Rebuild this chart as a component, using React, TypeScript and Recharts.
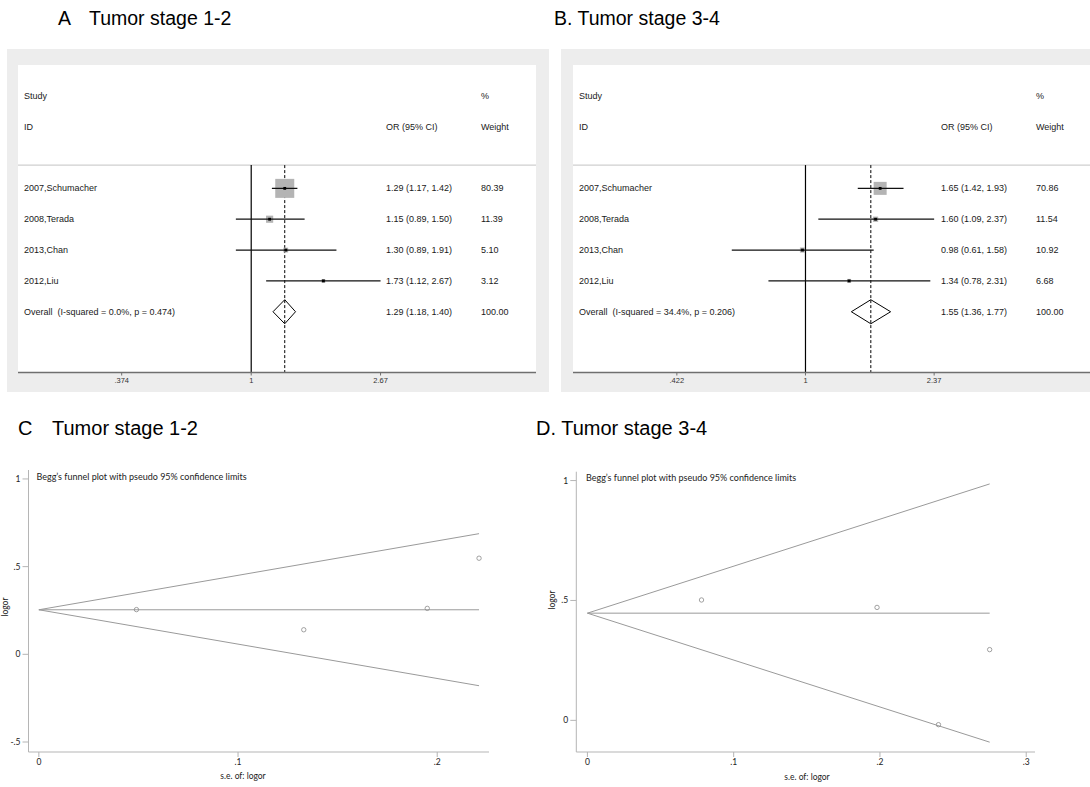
import React from "react";
import { ScatterChart, Scatter, XAxis, YAxis, ReferenceLine } from "recharts";

// studies, same order in both forest plots
const studies = ["2007,Schumacher", "2008,Terada", "2013,Chan", "2012,Liu"];

// A: tumor stage 1-2
const orA = [1.29, 1.15, 1.3, 1.73];
const loA = [1.17, 0.89, 0.89, 1.12];
const hiA = [1.42, 1.5, 1.91, 2.67];
const weightA = [80.39, 11.39, 5.1, 3.12];
const overallA = [1.29, 1.18, 1.4];
const overallTextA = "Overall  (I-squared = 0.0%, p = 0.474)";
const ticksA = [0.374, 1, 2.67];

// B: tumor stage 3-4
const orB = [1.65, 1.6, 0.98, 1.34];
const loB = [1.42, 1.09, 0.61, 0.78];
const hiB = [1.93, 2.37, 1.58, 2.31];
const weightB = [70.86, 11.54, 10.92, 6.68];
const overallB = [1.55, 1.36, 1.77];
const overallTextB = "Overall  (I-squared = 34.4%, p = 0.206)";
const ticksB = [0.422, 1, 2.37];

const seC = [0.049, 0.133, 0.195, 0.221];
const logorC = [0.255, 0.14, 0.262, 0.548];
const limitsC = [0.221, 0.254, 0.688, -0.179]; // se max, centre, upper, lower
const xTicksC = [0, 0.1, 0.2];
const yTicksC = [-0.5, 0, 0.5, 1];

// D: funnel, stage 3-4
const seD = [0.078, 0.198, 0.24, 0.275];
const logorD = [0.502, 0.471, -0.018, 0.295];
const limitsD = [0.275, 0.447, 0.986, -0.091];
const xTicksD = [0, 0.1, 0.2, 0.3];
const yTicksD = [0, 0.5, 1];

const SANS = "'Liberation Sans', Arial, sans-serif";
const FUNNEL_FONT = "Lato, 'Open Sans', sans-serif";
const COL = { label: 6, or: 368, weight: 463 };

const f2 = (v: number) => v.toFixed(2);
const stata = (v: number) => {
  const s = String(v);
  if (s.startsWith("0.")) return s.slice(1);
  if (s.startsWith("-0.")) return "-" + s.slice(2);
  return s;
};

const Empty = () => <g />;

const txt = (x: number, y: number, s: string, key?: string) => (
  <text key={key} x={x} y={y} fontSize={9} fontFamily={SANS} fill="#1a1a1a" dominantBaseline="central" style={{ whiteSpace: "pre" }}>
    {s}
  </text>
);

function Forest(props: any) {
  const { or, lo, hi, weight, overall, overallText, ticks, domain, boxK, width } = props;
  const rows = studies.map((s, i) => ({ row: i, or: or[i], lo: lo[i], hi: hi[i], w: weight[i], label: s }));
  const oRow = rows.length;
  const header = [
    { row: -3, or: 1, items: [["Study", COL.label], ["%", COL.weight]] },
    { row: -2, or: 1, items: [["ID", COL.label], ["OR (95% CI)", COL.or], ["Weight", COL.weight]] },
  ];
  const diamond = [
    { or: overall[1], row: oRow },
    { or: overall[0], row: oRow - 0.39 },
    { or: overall[2], row: oRow },
    { or: overall[0], row: oRow + 0.39 },
    { or: overall[1], row: oRow },
  ];
  const top = -0.755;
  const bottom = 5.97;

  const Header = (p: any) => <g>{p.payload.items.map((it: any) => txt(it[1], p.cy, it[0], it[0]))}</g>;
  const Box = (p: any) => {
    const s = boxK * Math.sqrt(p.payload.w);
    return <rect x={p.cx - s / 2} y={p.cy - s / 2} width={s} height={s} fill="#b4b4b4" />;
  };
  const Mark = (p: any) => {
    const d = p.payload;
    return (
      <g>
        <rect x={p.cx - 1.4} y={p.cy - 1.4} width={2.8} height={2.8} fill="#000" />
        {txt(COL.label, p.cy, d.label)}
        {txt(COL.or, p.cy, `${f2(d.or)} (${f2(d.lo)}, ${f2(d.hi)})`)}
        {txt(COL.weight, p.cy, f2(d.w))}
      </g>
    );
  };
  const OverallText = (p: any) => (
    <g>
      {txt(COL.label, p.cy, overallText)}
      {txt(COL.or, p.cy, `${f2(overall[0])} (${f2(overall[1])}, ${f2(overall[2])})`)}
      {txt(COL.weight, p.cy, "100.00")}
    </g>
  );

  return (
    <ScatterChart width={width} height={327.5} margin={{ top: 0, right: 0, bottom: 0, left: 0 }}>
      <XAxis
        type="number"
        dataKey="or"
        scale="log"
        domain={domain}
        allowDataOverflow
        ticks={ticks}
        tickFormatter={stata}
        height={20}
        axisLine={{ stroke: "#6f6f6f", strokeWidth: 1.5 }}
        tickLine={{ stroke: "#6f6f6f" }}
        tickSize={3}
        tick={{ fontSize: 7.5, fill: "#333", fontFamily: SANS }}
      />
      <YAxis type="number" dataKey="row" domain={[-4, bottom]} reversed hide allowDataOverflow />
      <ReferenceLine y={top} stroke="#cfcfcf" strokeWidth={1.2} />
      <ReferenceLine segment={[{ x: 1, y: top }, { x: 1, y: bottom }]} stroke="#000" strokeWidth={1.2} />
      <ReferenceLine segment={[{ x: overall[0], y: top }, { x: overall[0], y: bottom }]} stroke="#000" strokeDasharray="3 2" />
      <Scatter data={header} shape={Header} isAnimationActive={false} />
      <Scatter data={rows} shape={Box} isAnimationActive={false} />
      {rows.map((r) => (
        <Scatter
          key={r.label}
          data={[{ or: r.lo, row: r.row }, { or: r.hi, row: r.row }]}
          line={{ stroke: "#111", strokeWidth: 1.3 }}
          shape={Empty}
          isAnimationActive={false}
        />
      ))}
      <Scatter data={rows} shape={Mark} isAnimationActive={false} />
      <Scatter data={diamond} line={{ stroke: "#000", strokeWidth: 1 }} shape={Empty} isAnimationActive={false} />
      <Scatter data={[{ or: overall[0], row: oRow }]} shape={OverallText} isAnimationActive={false} />
    </ScatterChart>
  );
}

function Funnel(props: any) {
  const { se, logor, limits, xDomain, yDomain, xTicks, yTicks, yAxisWidth, marginTop, marginRight } = props;
  const pts = se.map((s: number, i: number) => ({ se: s, logor: logor[i] }));
  const [seMax, centre, upper, lower] = limits;
  const lines = [upper, centre, lower].map((end) => [
    { se: 0, logor: centre },
    { se: seMax, logor: end },
  ]);
  const Ring = (p: any) => <circle cx={p.cx} cy={p.cy} r={2.2} fill="none" stroke="#8a8a8a" strokeWidth={0.8} />;
  const tick = { fontSize: 8.5, fill: "#222", fontFamily: FUNNEL_FONT };

  return (
    <ScatterChart width={500} height={327} margin={{ top: marginTop, right: marginRight, bottom: 0, left: 0 }}>
      <XAxis
        type="number"
        dataKey="se"
        domain={xDomain}
        allowDataOverflow
        ticks={xTicks}
        tickFormatter={stata}
        height={327 - 292}
        axisLine={{ stroke: "#b5b5b5" }}
        tickLine={{ stroke: "#b5b5b5" }}
        tickSize={5}
        tick={tick}
      />
      <YAxis
        type="number"
        dataKey="logor"
        domain={yDomain}
        allowDataOverflow
        ticks={yTicks}
        tickFormatter={stata}
        width={yAxisWidth}
        axisLine={{ stroke: "#b5b5b5" }}
        tickLine={{ stroke: "#b5b5b5" }}
        tickSize={6}
        tick={tick}
      />
      {lines.map((d, i) => (
        <Scatter key={i} data={d} line={{ stroke: "#9a9a9a", strokeWidth: 1 }} shape={Empty} isAnimationActive={false} />
      ))}
      <Scatter data={pts} shape={Ring} isAnimationActive={false} />
    </ScatterChart>
  );
}

const abs = (left: number, top: number, extra: any = {}) => ({ position: "absolute" as const, left, top, ...extra });

export default function App() {
  const title = { fontFamily: SANS, color: "#000", lineHeight: 1, whiteSpace: "pre" as const };
  const small = { fontFamily: FUNNEL_FONT, color: "#222", lineHeight: 1, whiteSpace: "pre" as const };
  return (
    <div style={{ position: "absolute", left: 0, top: 0, width: 1090, height: 787, overflow: "hidden", background: "#fff" }}>
      {/* panel titles */}
      <div style={abs(58, 8.5, { ...title, fontSize: 19.5 })}>A</div>
      <div style={abs(89, 8.5, { ...title, fontSize: 19.5 })}>Tumor stage 1-2</div>
      <div style={abs(554, 8.5, { ...title, fontSize: 19.5 })}>B. Tumor stage 3-4</div>
      <div style={abs(18, 418, { ...title, fontSize: 20 })}>C</div>
      <div style={abs(52, 418, { ...title, fontSize: 20 })}>Tumor stage 1-2</div>
      <div style={abs(536, 418, { ...title, fontSize: 20 })}>D. Tumor stage 3-4</div>

      {/* A */}
      <div style={abs(7, 49, { width: 542, height: 343, background: "#ededed" })} />
      <div style={abs(18, 65, { width: 518, height: 307.5, background: "#fff" })} />
      <div style={abs(18, 65)}>
        <Forest
          or={orA}
          lo={loA}
          hi={hiA}
          weight={weightA}
          overall={overallA}
          overallText={overallTextA}
          ticks={ticksA}
          domain={[0.1702, 8.692]}
          boxK={2.12}
          width={518}
        />
      </div>

      {/* B */}
      <div style={abs(561, 49, { width: 529, height: 343, background: "#ededed" })} />
      <div style={abs(573, 65, { width: 517, height: 307.5, background: "#fff" })} />
      <div style={abs(573, 65)}>
        <Forest
          or={orB}
          lo={loB}
          hi={hiB}
          weight={weightB}
          overall={overallB}
          overallText={overallTextB}
          ticks={ticksB}
          domain={[0.2103, 6.741]}
          boxK={1.545}
          width={517}
        />
      </div>

      {/* C */}
      <div style={abs(0, 460)}>
        <Funnel
          se={seC}
          logor={logorC}
          limits={limitsC}
          xDomain={[-0.0052, 0.226]}
          yDomain={[-0.557, 1.051]}
          xTicks={xTicksC}
          yTicks={yTicksC}
          yAxisWidth={28.5}
          marginTop={10}
          marginRight={11}
        />
      </div>
      <div style={abs(36.5, 471.5, { ...small, fontSize: 9 })}>Begg’s funnel plot with pseudo 95% confidence limits</div>
      <div style={abs(243, 772, { ...small, fontSize: 8.5, transform: "translateX(-50%)" })}>s.e. of: logor</div>
      <div style={abs(5, 607, { ...small, fontSize: 8.5, transform: "translate(-50%, -50%) rotate(-90deg)" })}>logor</div>

      {/* D */}
      <div style={abs(545, 460)}>
        <Funnel
          se={seD}
          logor={logorD}
          limits={limitsD}
          xDomain={[-0.0076, 0.306]}
          yDomain={[-0.132, 1.037]}
          xTicks={xTicksD}
          yTicks={yTicksD}
          yAxisWidth={31.3}
          marginTop={11.7}
          marginRight={10}
        />
      </div>
      <div style={abs(586, 473, { ...small, fontSize: 9 })}>Begg’s funnel plot with pseudo 95% confidence limits</div>
      <div style={abs(807, 773, { ...small, fontSize: 8.5, transform: "translateX(-50%)" })}>s.e. of: logor</div>
      <div style={abs(552, 600, { ...small, fontSize: 8.5, transform: "translate(-50%, -50%) rotate(-90deg)" })}>logor</div>
    </div>
  );
}
